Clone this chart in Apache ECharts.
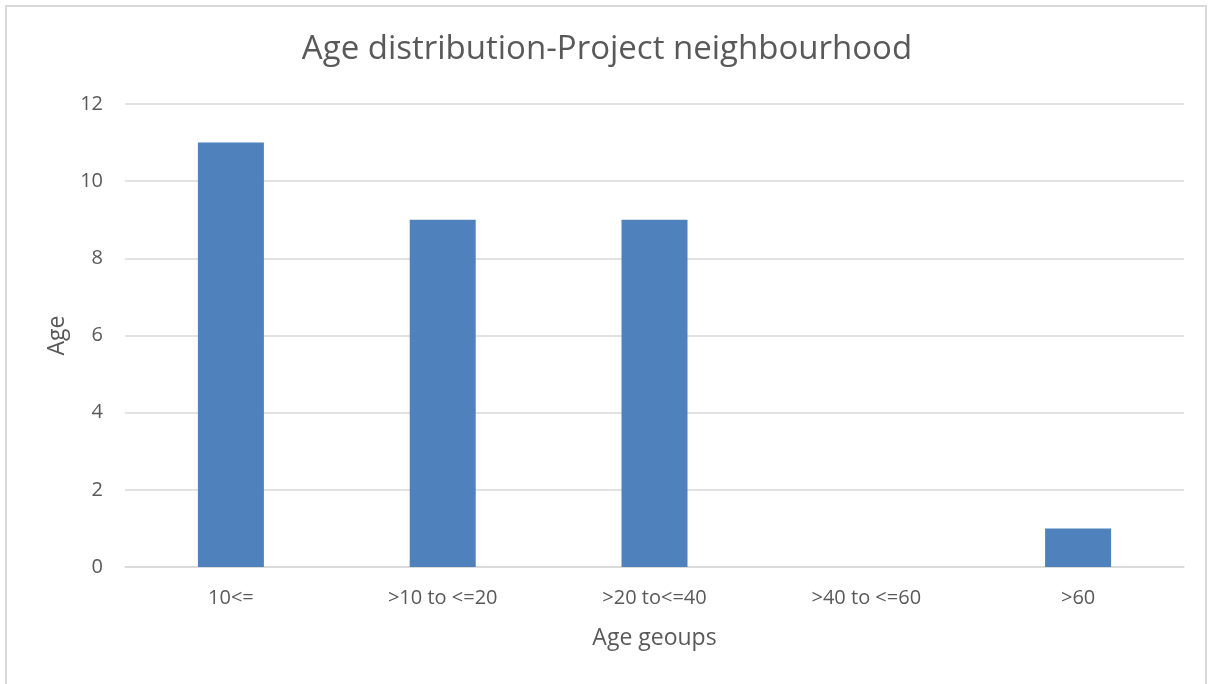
<!DOCTYPE html>
<html>
<head>
<meta charset="utf-8">
<script src="https://cdn.jsdelivr.net/npm/echarts@6/dist/echarts.min.js"></script>
<style>
  html, body { margin: 0; padding: 0; background: #fff; }
  #frame { position: absolute; left: 5px; top: 5px; width: 1202px; height: 690px; border: 2px solid #d9d9d9; box-sizing: border-box; }
  #chart { position: absolute; left: 0; top: 0; width: 1214px; height: 684px; }
</style>
</head>
<body>
<div id="frame"></div>
<div id="chart"></div>
<script>
const categories = ['10<=', '>10 to <=20', '>20 to<=40', '>40 to <=60', '>60'];
const counts = [11, 9, 9, 0, 1];

const FONT = '"Open Sans", Lato, sans-serif';
const TEXT = '#595959';

const chart = echarts.init(document.getElementById('chart'), null, { renderer: 'canvas' });
chart.setOption({
  backgroundColor: 'transparent',
  animation: false,
  title: {
    text: 'Age distribution-Project neighbourhood',
    left: 'center',
    top: 28,
    textStyle: { fontFamily: FONT, fontSize: 33, fontWeight: 'normal', color: TEXT }
  },
  grid: { left: 125, right: 30, top: 104, bottom: 117 },
  xAxis: {
    type: 'category',
    data: categories,
    name: 'Age geoups',
    nameLocation: 'middle',
    nameGap: 60,
    nameTextStyle: { fontFamily: FONT, fontSize: 23, color: TEXT },
    axisLine: { lineStyle: { color: '#d9d9d9', width: 1.5 } },
    axisTick: { show: false },
    axisLabel: { fontFamily: FONT, fontSize: 20, color: TEXT, margin: 21 }
  },
  yAxis: {
    type: 'value',
    min: 0,
    max: 12,
    interval: 2,
    name: 'Age',
    nameLocation: 'middle',
    nameGap: 55,
    nameTextStyle: { fontFamily: FONT, fontSize: 23, color: TEXT },
    axisLine: { show: false },
    axisTick: { show: false },
    axisLabel: { fontFamily: FONT, fontSize: 20, color: TEXT, margin: 22 },
    splitLine: { lineStyle: { color: '#d9d9d9', width: 1.5 } }
  },
  series: [{
    type: 'bar',
    data: counts,
    barWidth: 66,
    itemStyle: { color: '#4f81bd' }
  }]
});
</script>
</body>
</html>
